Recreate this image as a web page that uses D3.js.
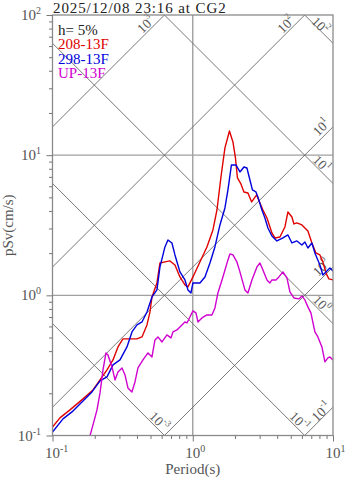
<!DOCTYPE html>
<html><head><meta charset="utf-8">
<script src="https://cdn.jsdelivr.net/npm/d3@7"></script>
<style>
body{margin:0;background:#fff}
svg{display:block}
text{font-family:"Liberation Serif","Times New Roman",serif}
</style>
</head><body>
<svg id="c" width="347" height="478"></svg>
<script>
// ---------- data ----------
const titleText = "2025/12/08 23:16 at CG2";
const dampingText = "h= 5%";
const seriesNames = ["208-13F", "298-13F", "UP-13F"];
const xTickExps = [-1, 0, 1];
const yTickExps = [-1, 0, 1, 2];
const accelExps = [-1, 0, 1, 2, 3];          // acceleration lines (cm/s^2)
const dispExps = [-2, -1, 0, 1, 2];          // displacement lines (cm)
const accelLabels = ["-1", "0", "1", "2", "3"];
const dispLabels = ["-3", "-1", "0", "1", "2"];

const period208 = [0.100,0.113,0.1332,0.165,0.1944,0.2182,0.2446,0.2699,0.2930,0.318,0.3451,0.4002,0.4345,0.4717,0.4955,0.512,0.5556,0.5837,0.6336,0.6878,0.7467,0.8103,0.8797,0.924,1.003,1.125,1.262,1.393,1.488,1.589,1.696,1.827,1.934,2.016,2.083,2.205,2.317,2.474,2.63,2.855,3.013,3.166,3.382,3.669,3.854,4.183,4.542,4.771,5.095,5.264,5.53,6.002,6.624,7.072,7.553,8.066,8.472,8.901,9.35,10];
const sv208 = [0.115,0.1335,0.1523,0.1825,0.2114,0.2492,0.2937,0.3461,0.4285,0.4887,0.4887,0.489,0.505,0.615,0.761,0.974,1.226,1.702,1.731,1.760,1.647,1.353,1.186,1.148,1.353,1.731,2.214,2.927,4.065,6.99,11.26,14.88,12.42,9.55,6.877,6.23,5.464,5.375,4.637,5.201,4.56,4.065,3.565,2.787,2.567,2.609,3.075,3.935,3.624,3.231,3.285,3.178,2.879,2.364,2.006,1.942,1.731,1.445,1.309,1.288];

const period298 = [0.100,0.1188,0.1377,0.1623,0.1912,0.2182,0.2446,0.2699,0.3029,0.3396,0.3687,0.4002,0.4345,0.4717,0.512,0.5556,0.5837,0.6336,0.6654,0.7107,0.7467,0.8103,0.8797,0.924,0.9709,1.003,1.125,1.222,1.326,1.439,1.563,1.696,1.782,1.887,2.032,2.170,2.317,2.434,2.557,2.664,2.821,2.915,3.113,3.271,3.436,3.669,3.982,4.395,4.771,5.095,5.53,6.002,6.305,6.624,7.072,7.43,8.066,8.472,9.049,9.504,10];
const sv298 = [0.106,0.1314,0.1474,0.1737,0.2046,0.2451,0.2618,0.319,0.3461,0.4285,0.5483,0.615,0.6459,0.761,0.974,1.093,1.594,2.214,2.484,2.364,1.942,1.469,1.288,1.093,1.040,1.226,1.226,1.353,1.702,2.214,3.178,4.201,5.647,8.514,8.514,7.591,8.238,8.104,6.655,5.647,5.464,5.034,4.065,3.565,3.025,2.653,2.443,2.567,2.697,2.364,2.443,2.288,2.403,2.178,2.364,2.006,1.647,1.398,1.493,1.568,1.493];

const periodUP = [0.179,0.185,0.1944,0.2076,0.2182,0.2291,0.2406,0.2486,0.2655,0.279,0.293,0.3131,0.3288,0.3451,0.3687,0.3873,0.4068,0.4416,0.4794,0.512,0.5378,0.5649,0.6033,0.6548,0.6992,0.7227,0.7716,0.8375,0.8797,0.9093,0.955,1.003,1.054,1.089,1.163,1.262,1.37,1.439,1.512,1.641,1.782,1.841,1.934,2.065,2.170,2.355,2.474,2.642,2.869,3.013,3.166,3.382,3.549,3.669,3.917,4.116,4.395,4.693,4.93,5.264,5.713,6.002,6.305,6.624,6.958,7.43,7.805,8.337,8.756,9.197,9.504,10];
const svUP = [0.0857,0.0993,0.119,0.1523,0.2013,0.2937,0.3883,0.3757,0.3086,0.2492,0.2841,0.3035,0.2705,0.2185,0.2046,0.2411,0.3035,0.3461,0.3883,0.3636,0.4807,0.505,0.465,0.5218,0.4967,0.5483,0.5665,0.615,0.6459,0.6353,0.701,0.774,0.749,0.6459,0.690,0.7247,0.7247,0.813,1.040,1.353,1.789,1.974,1.942,1.731,1.469,1.093,1.040,1.288,1.594,1.702,1.518,1.288,1.226,1.288,1.288,1.353,1.469,1.331,1.057,0.958,0.943,0.990,0.927,0.827,0.749,0.5483,0.505,0.4285,0.335,0.3577,0.3636,0.3461];

// ---------- styles ----------
const colors = ["#e00000", "#0000dd", "#d000d0"];
const tickColor = "#555";

const svg = d3.select("#c");
const x = d3.scaleLog().domain([0.1, 10]).range([52.5, 333]);
const y = d3.scaleLog().domain([0.1, 100]).range([435.5, 15]);
const X0 = x.range()[0], X1 = x.range()[1], Y0 = y.range()[1], Y1 = y.range()[0];
const TWO_PI = 2 * Math.PI;

svg.append("defs").append("clipPath").attr("id", "clip")
  .append("rect").attr("x", X0).attr("y", Y0).attr("width", X1 - X0).attr("height", Y1 - Y0);

// grid lines at decades
const grid = svg.append("g").attr("stroke", "#a0a0a0").attr("stroke-width", 1.4);
[1].forEach(t => grid.append("line").attr("x1", x(t)).attr("x2", x(t)).attr("y1", Y0).attr("y2", Y1));
[1, 10].forEach(v => grid.append("line").attr("x1", X0).attr("x2", X1).attr("y1", y(v)).attr("y2", y(v)));

// tripartite diagonals
const diag = svg.append("g").attr("clip-path", "url(#clip)").attr("stroke", "#6a6a6a").attr("stroke-width", 0.9).attr("fill", "none");
const lineGen = d3.line().x(d => x(d[0])).y(d => y(d[1]));
accelExps.forEach(e => {
  const A = Math.pow(10, e);
  diag.append("path").attr("d", lineGen([0.01, 100].map(T => [T, A * T / TWO_PI])));
});
dispExps.forEach(e => {
  const D = Math.pow(10, e);
  diag.append("path").attr("d", lineGen([0.01, 100].map(T => [T, TWO_PI * D / T])));
});

// diagonal labels
function supLabel(g, base, sup, fs, sfs, dySup) {
  const t = g.append("text").attr("font-size", fs).attr("fill", "#555")
    .attr("text-anchor", "middle").attr("dominant-baseline", "central");
  t.append("tspan").text(base);
  t.append("tspan").attr("font-size", sfs).attr("dy", dySup).text(sup);
  return t;
}
const dlab = svg.append("g");
accelExps.forEach((e, i) => {
  const A = Math.pow(10, e);
  let px, py, off;
  const svR = A * 10 / TWO_PI;
  if (svR <= 100) { px = x(10); py = y(svR); off = [-12, e === -1 ? 4 : 0]; }
  else { px = x(TWO_PI * 100 / A); py = y(100); off = [-19, 9]; }
  const g = dlab.append("g").attr("transform", `translate(${px + off[0]},${py + off[1]}) rotate(-45)`);
  supLabel(g, "10", accelLabels[i], 13.5, 9, -4.5);
});
dispExps.forEach((e, i) => {
  const D = Math.pow(10, e);
  let px, py, off;
  const svR = TWO_PI * D / 10;
  if (D >= 100) { px = x(TWO_PI * D / 100); py = y(100); off = [16, 10]; }
  else if (svR >= 0.1) { px = x(10); py = y(svR); off = [-11, -20]; }
  else { px = x(TWO_PI * D / 0.1); py = y(0.1); off = [-5, -14.5]; }
  const g = dlab.append("g").attr("transform", `translate(${px + off[0]},${py + off[1]}) rotate(45)`);
  supLabel(g, "10", dispLabels[i], 13.5, 9, -4.5);
});

// series
const curves = svg.append("g").attr("clip-path", "url(#clip)").attr("fill", "none")
  .attr("stroke-width", 1.4).attr("stroke-linejoin", "round");
[[period208, sv208], [period298, sv298], [periodUP, svUP]].forEach((s, i) => {
  curves.append("path").attr("stroke", colors[i]).attr("d", lineGen(d3.zip(s[0], s[1])));
});

// frame
svg.append("rect").attr("x", X0).attr("y", Y0).attr("width", X1 - X0).attr("height", Y1 - Y0)
  .attr("fill", "none").attr("stroke", "#8a8a8a").attr("stroke-width", 1.3);

// ticks
function minorVals(lo, hi) {
  const out = [];
  for (let d = lo; d < hi; d *= 10) for (let k = 2; k <= 9; k++) out.push(d * k);
  return out;
}
const axStyle = sel => { sel.select(".domain").remove(); sel.selectAll("line").attr("stroke", "#777"); sel.selectAll("text").remove(); };
svg.append("g").attr("transform", `translate(${X0},0)`)
  .call(d3.axisLeft(y).tickValues(yTickExps.map(e => Math.pow(10, e))).tickSize(6)).call(axStyle);
svg.append("g").attr("transform", `translate(${X0},0)`)
  .call(d3.axisLeft(y).tickValues(minorVals(0.1, 100)).tickSize(3.5)).call(axStyle);
svg.append("g").attr("transform", `translate(0,${Y1})`)
  .call(d3.axisBottom(x).tickValues(xTickExps.map(e => Math.pow(10, e))).tickSize(6)).call(axStyle);
svg.append("g").attr("transform", `translate(0,${Y1})`)
  .call(d3.axisBottom(x).tickValues(minorVals(0.1, 10)).tickSize(3.5)).call(axStyle);

// tick labels
yTickExps.forEach(e => {
  const t = svg.append("text").attr("x", 41).attr("y", y(Math.pow(10, e)) + 5)
    .attr("text-anchor", "end").attr("font-size", 15).attr("fill", tickColor);
  t.append("tspan").text("10");
  t.append("tspan").attr("font-size", 10).attr("dy", -6).text(String(e));
});
xTickExps.forEach(e => {
  const t = svg.append("text").attr("x", x(Math.pow(10, e)) - 7.5).attr("y", 458)
    .attr("text-anchor", "start").attr("font-size", 15).attr("fill", tickColor);
  t.append("tspan").text("10");
  t.append("tspan").attr("font-size", 10).attr("dy", -6).text(String(e));
});

// axis titles
svg.append("text").attr("x", x(1)).attr("y", 474).attr("text-anchor", "middle")
  .attr("font-size", 15).attr("fill", tickColor).text("Period(s)");
svg.append("text").attr("transform", `translate(13,${(Y0 + Y1) / 2}) rotate(-90)`)
  .attr("text-anchor", "middle").attr("font-size", 15).attr("fill", tickColor).text("pSv(cm/s)");

// title
svg.append("text").attr("x", 53).attr("y", 12.5).attr("font-size", 15).attr("letter-spacing", 0.9)
  .attr("fill", "#222").text(titleText);

// legend
svg.append("text").attr("x", 58).attr("y", 34.5).attr("font-size", 15).attr("fill", "#222").text(dampingText);
seriesNames.forEach((n, i) => {
  svg.append("text").attr("x", 58).attr("y", 49 + i * 14.6).attr("font-size", 15)
    .attr("fill", colors[i]).text(n);
});
</script>
</body></html>
